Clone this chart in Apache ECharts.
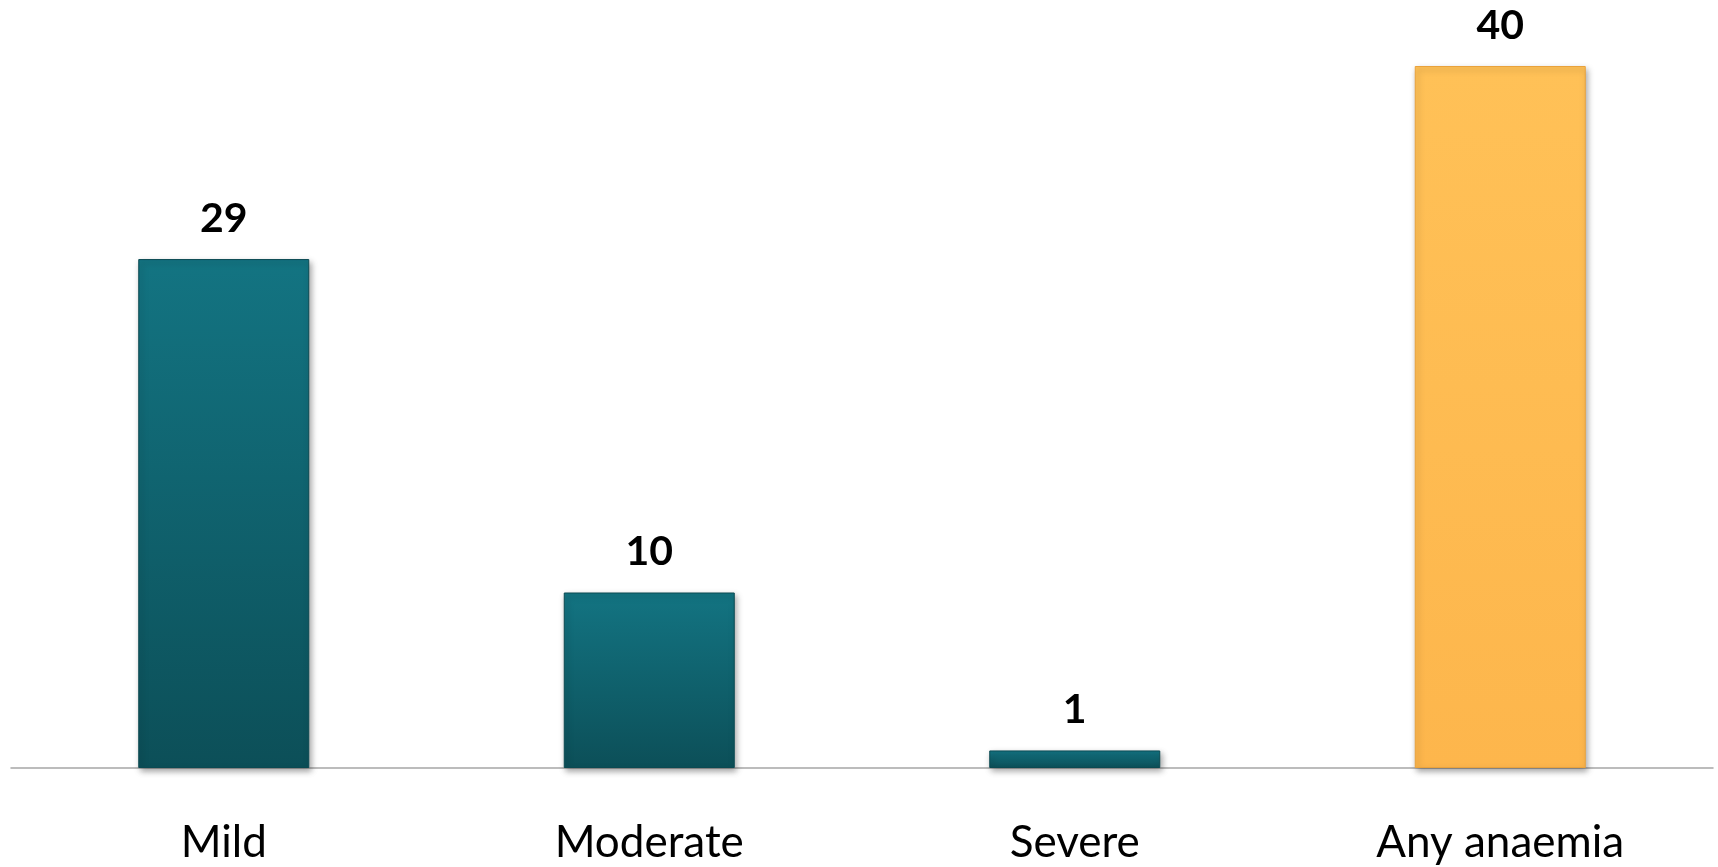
<!DOCTYPE html>
<html>
<head>
<meta charset="utf-8">
<script src="https://cdn.jsdelivr.net/npm/echarts@6/dist/echarts.min.js"></script>
<style>
  html, body { margin: 0; padding: 0; background: #ffffff; }
  #chart { width: 1718px; height: 867px; }
</style>
</head>
<body>
<div id="chart"></div>
<script>
// Anaemia prevalence by severity (%)
const categories = ['Mild', 'Moderate', 'Severe', 'Any anaemia'];
const values = [29, 10, 1, 40];
const barKinds = ['teal', 'teal', 'teal', 'amber'];

const palette = {
  teal: {
    fill: new echarts.graphic.LinearGradient(0, 0, 0, 1, [
      { offset: 0, color: '#137482' },
      { offset: 1, color: '#0c4f58' }
    ]),
    border: '#0b4a52'
  },
  amber: {
    fill: new echarts.graphic.LinearGradient(0, 0, 0, 1, [
      { offset: 0, color: '#ffc157' },
      { offset: 1, color: '#fdb64c' }
    ]),
    border: '#e9a23c'
  }
};

const chart = echarts.init(document.getElementById('chart'), null, { renderer: 'canvas' });

chart.setOption({
  animation: false,
  backgroundColor: '#ffffff',
  grid: { left: 11, right: 5, top: 66, bottom: 99, containLabel: false },
  xAxis: {
    type: 'category',
    data: categories,
    axisLine: { show: true, lineStyle: { color: '#a6a6a6', width: 1.5 } },
    axisTick: { show: false },
    axisLabel: {
      color: '#000000',
      fontFamily: 'Lato, "Open Sans", sans-serif',
      fontSize: 44,
      margin: 53
    }
  },
  yAxis: {
    type: 'value',
    min: 0,
    max: 40,
    show: false,
    splitLine: { show: false }
  },
  series: [{
    type: 'bar',
    barWidth: 171,
    data: values.map((v, i) => ({
      value: v,
      itemStyle: {
        color: palette[barKinds[i]].fill,
        borderColor: palette[barKinds[i]].border,
        borderWidth: 1,
        shadowColor: 'rgba(0,0,0,0.35)',
        shadowBlur: 6,
        shadowOffsetX: 2,
        shadowOffsetY: 3
      }
    })),
    label: {
      show: true,
      position: 'top',
      distance: 20,
      color: '#000000',
      fontFamily: 'Lato, "Open Sans", sans-serif',
      fontWeight: 'bold',
      fontSize: 41
    }
  }]
});
</script>
</body>
</html>
